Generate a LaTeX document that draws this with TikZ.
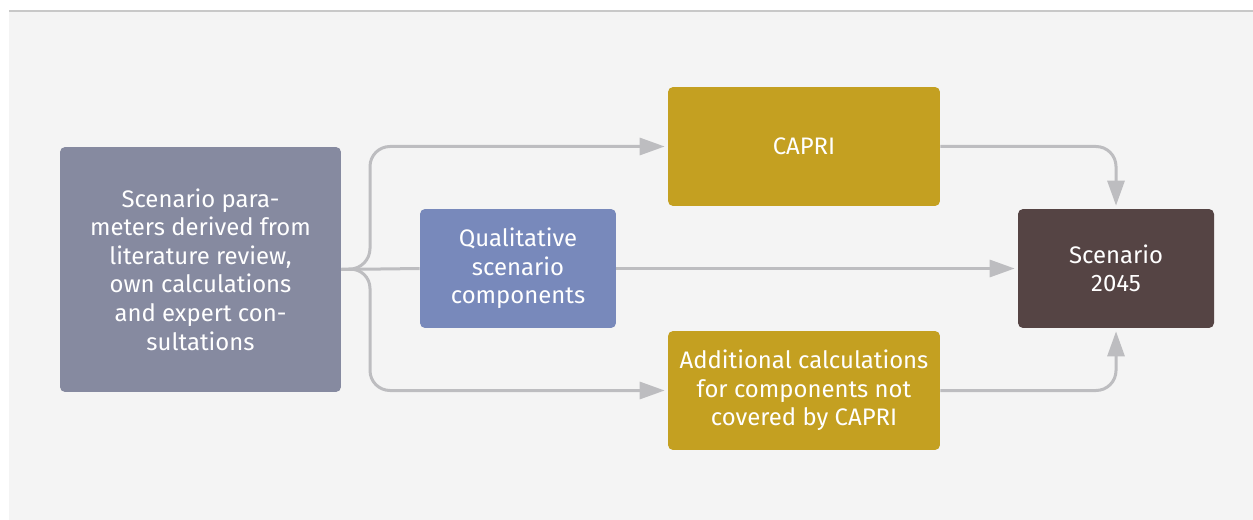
\documentclass[tikz,border=0pt]{standalone}
\usepackage{fontspec}
\setmainfont{Fira Sans}
\usepackage{xcolor}
\usepackage{tikz}
\usetikzlibrary{arrows.meta}
\usetikzlibrary{calc}
\definecolor{paneback}{HTML}{F4F4F4}
\definecolor{paneline}{HTML}{C8C8C8}
\definecolor{paramcol}{HTML}{868AA0}
\definecolor{qualcol}{HTML}{7889BB}
\definecolor{capricol}{HTML}{C4A021}
\definecolor{scencol}{HTML}{554444}
\definecolor{flowcol}{HTML}{BDBDC0}
\tikzset{
	box/.style={rounded corners=0.1cm, text=white, align=center, inner sep=0pt,
		font=\fontsize{13.6}{16.3}\selectfont}
}
\tikzstyle{flow}=[draw=flowcol, line width=0.06cm, rounded corners=0.4cm,
	-{Triangle[length=0.5cm,width=0.34cm]}, shorten >=0.06cm]
\tikzstyle{plain}=[draw=flowcol, line width=0.06cm]
\begin{document}
\begin{tikzpicture}[x=0.02cm,y=-0.02cm]
	\useasboundingbox (0,0) rectangle (1253,520);
	\fill[paneback] (9,11) rectangle (1253,520);
	\draw[paneline, line width=0.03cm] (9,11) -- (1253,11);
	\node[box, fill=paramcol, minimum width=5.62cm, minimum height=4.9cm] (params) at (200.5,269.5)
		{Scenario para-\\meters derived from\\literature review,\\own calculations\\and expert con-\\sultations};
	\node[box, fill=qualcol, minimum width=3.92cm, minimum height=2.38cm] (qual) at (518,268.5)
		{Qualitative\\scenario\\components};
	\node[box, fill=capricol, minimum width=5.44cm, minimum height=2.38cm] (capri) at (804,146.5) {CAPRI};
	\node[box, fill=capricol, minimum width=5.44cm, minimum height=2.38cm] (addcalc) at (804,390.5)
		{Additional calculations\\for components not\\covered by CAPRI};
	\node[box, fill=scencol, minimum width=3.92cm, minimum height=2.38cm] (scen) at (1116,268.5)
		{Scenario\\2045};
	\coordinate (fork) at (370,268.5);
	\draw[flow] (params.east) -- (fork) |- (capri.west);
	\draw[flow] (params.east) -- (fork) |- (addcalc.west);
	\draw[plain] (params.east) -- (qual.west);
	\draw[flow] (qual.east) -- (scen.west);
	\draw[flow] (capri.east) -| (scen.north);
	\draw[flow] (addcalc.east) -| (scen.south);
\end{tikzpicture}
\end{document}
